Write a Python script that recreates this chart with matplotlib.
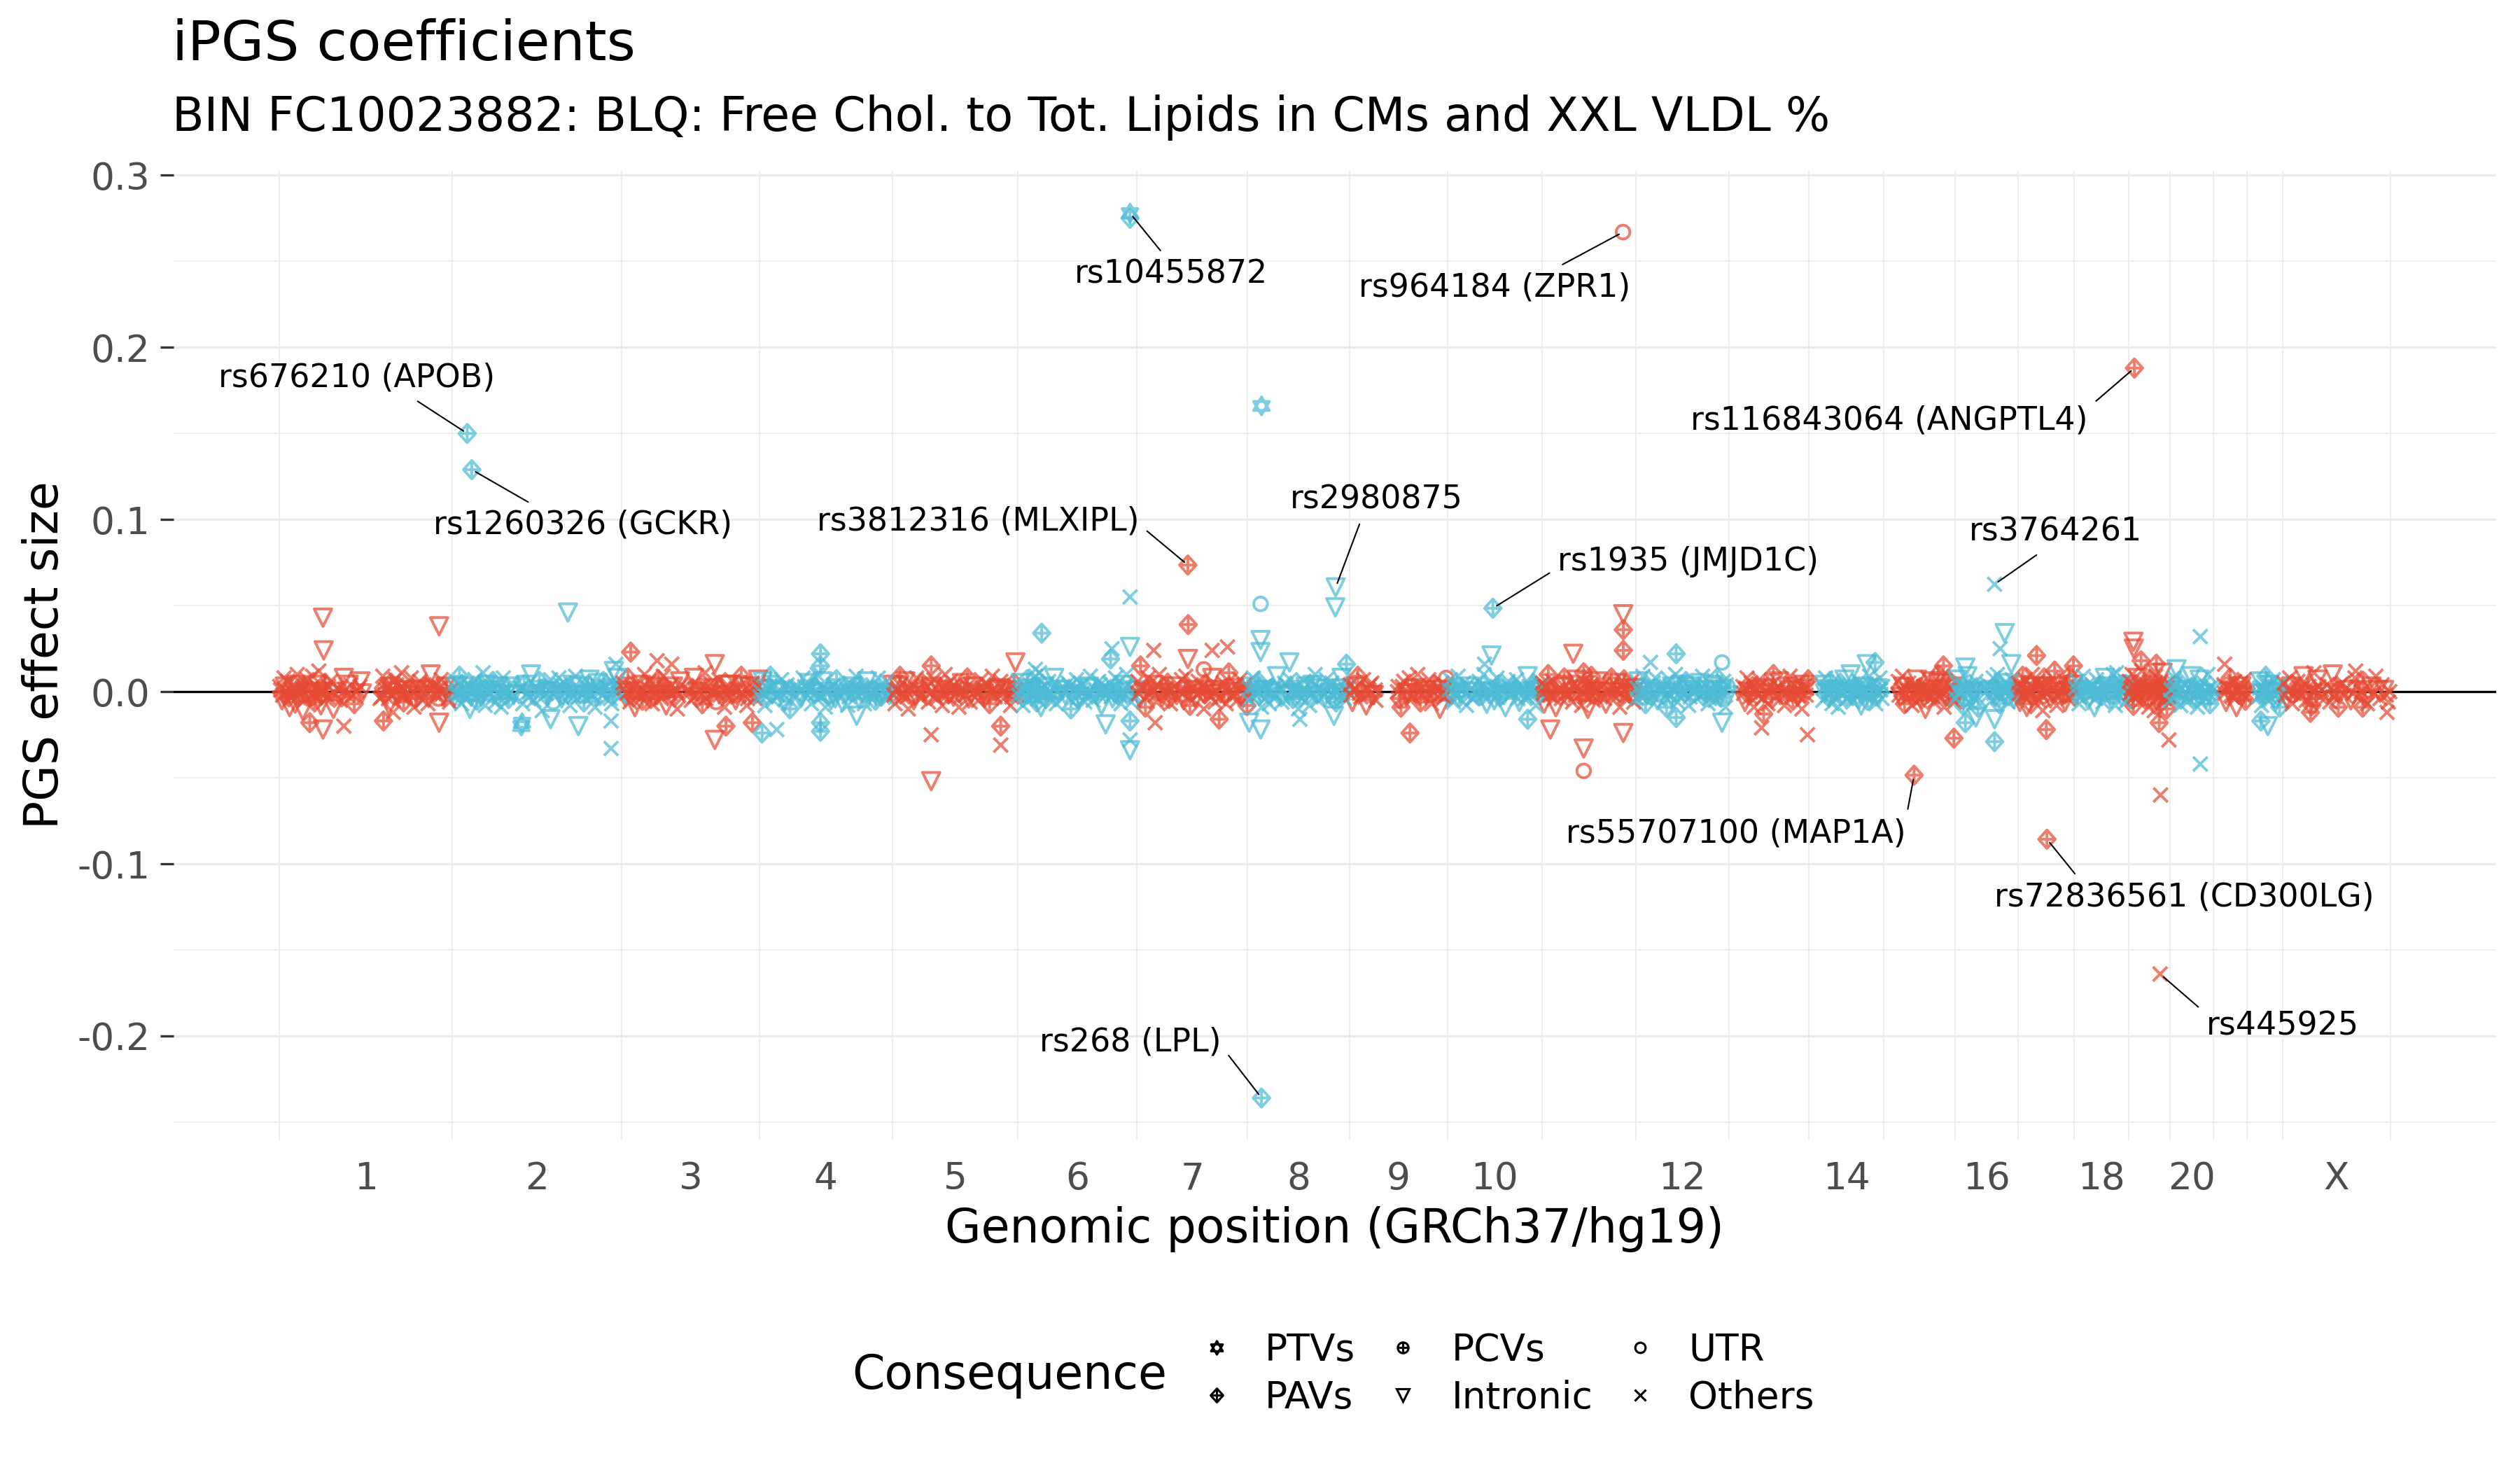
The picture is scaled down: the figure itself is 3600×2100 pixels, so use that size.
import numpy as np
import matplotlib
matplotlib.use("Agg")
import matplotlib.pyplot as plt
from matplotlib.path import Path
from matplotlib.lines import Line2D

# chromosome sizes (Mb, GRCh37)
chrom_names = ["1", "2", "3", "4", "5", "6", "7", "8", "9", "10", "11", "12",
               "13", "14", "15", "16", "17", "18", "19", "20", "21", "22", "X"]
chrom_len = [249.25, 243.20, 198.02, 191.15, 180.92, 171.12, 159.14, 146.36,
             141.21, 135.53, 135.01, 133.85, 115.17, 107.35, 102.53, 90.35,
             81.20, 78.08, 59.13, 63.03, 48.13, 51.30, 155.27]
tick_shown = ["1", "2", "3", "4", "5", "6", "7", "8", "9", "10",
              "12", "14", "16", "18", "20", "X"]

# bulk of small effects, per chromosome: position (Mb), beta (x1e-3), consequence code
band_pos = [
    [1, 4, 7, 9, 12, 15, 17, 20, 23, 26, 28, 31, 34, 37, 40, 43, 45, 48, 51, 54,
     57, 60, 63, 66, 70, 74, 78, 83, 88, 93, 98, 103, 108, 113, 117, 145, 149, 152, 155, 158,
     161, 164, 167, 170, 173, 176, 179, 182, 186, 190, 194, 198, 202, 206, 210, 214, 218, 222, 226, 229,
     233, 237, 241, 245],
    [2, 5, 8, 10, 13, 16, 19, 22, 25, 29, 32, 35, 38, 41, 44, 47, 50, 54, 58, 62,
     66, 70, 73, 77, 81, 85, 88, 98, 101, 105, 109, 113, 117, 121, 125, 129, 133, 137, 141, 145,
     149, 153, 157, 161, 165, 169, 173, 177, 181, 185, 189, 193, 197, 201, 205, 209, 213, 217, 221, 225,
     229, 233, 237, 241],
    [2, 5, 9, 12, 16, 19, 23, 26, 30, 33, 37, 40, 44, 47, 50, 53, 57, 60, 64, 68,
     72, 76, 80, 84, 96, 100, 104, 108, 112, 116, 120, 124, 128, 132, 136, 140, 144, 148, 152, 156,
     160, 164, 168, 172, 176, 180, 184, 188, 192, 196],
    [1, 5, 8, 12, 16, 20, 24, 28, 32, 36, 40, 44, 55, 59, 63, 67, 71, 75, 79, 83,
     87, 91, 95, 99, 103, 107, 111, 115, 119, 123, 127, 131, 135, 139, 143, 147, 151, 155, 159, 163,
     167, 171, 175, 179, 183, 187],
    [1, 4, 8, 11, 15, 19, 23, 27, 31, 35, 39, 43, 52, 56, 60, 64, 68, 72, 76, 80,
     84, 88, 92, 96, 100, 104, 108, 112, 116, 120, 124, 128, 132, 136, 140, 144, 148, 152, 156, 160,
     165, 170, 175, 179],
    [1, 4, 7, 10, 13, 16, 19, 22, 25, 27, 29, 31, 33, 36, 40, 44, 48, 52, 55, 64,
     68, 72, 76, 80, 84, 88, 92, 96, 100, 104, 108, 112, 116, 120, 124, 128, 132, 136, 140, 144,
     148, 152, 156, 163, 167, 170],
    [1, 4, 8, 12, 16, 20, 24, 28, 32, 36, 40, 44, 48, 52, 56, 64, 67, 70, 76, 80,
     84, 88, 92, 96, 100, 104, 108, 112, 116, 120, 124, 128, 132, 136, 140, 144, 148, 152, 155, 158],
    [1, 4, 8, 11, 15, 20, 23, 27, 31, 35, 39, 42, 49, 53, 57, 61, 65, 69, 73, 77,
     81, 85, 89, 93, 97, 101, 105, 109, 113, 117, 121, 127, 131, 135, 139, 143],
    [1, 4, 8, 12, 16, 20, 24, 28, 32, 35, 38, 70, 74, 78, 82, 86, 90, 94, 98, 102,
     106, 110, 114, 118, 122, 126, 130, 133, 136, 139],
    [1, 4, 8, 12, 15, 19, 23, 27, 31, 35, 45, 49, 52, 56, 60, 63, 67, 71, 75, 79,
     83, 87, 91, 95, 99, 103, 107, 111, 115, 119, 123, 127, 131, 134],
    [1, 3, 6, 9, 12, 16, 20, 24, 28, 32, 36, 40, 44, 47, 50, 57, 60, 62, 64, 66,
     68, 71, 74, 77, 80, 84, 88, 92, 96, 100, 104, 108, 112, 115, 118, 121, 125, 129, 132, 134],
    [1, 4, 7, 10, 14, 18, 21, 25, 28, 31, 40, 44, 48, 51, 54, 57, 60, 64, 68, 72,
     76, 80, 84, 88, 92, 96, 100, 104, 108, 111, 114, 117, 120, 123, 126, 129, 132],
    [20, 23, 26, 29, 32, 36, 40, 44, 48, 52, 56, 60, 64, 68, 72, 76, 80, 84, 88, 92,
     96, 99, 102, 105, 108, 111, 114],
    [20, 22, 24, 27, 30, 33, 36, 39, 42, 45, 48, 51, 54, 57, 60, 63, 66, 69, 72, 75,
     78, 81, 84, 87, 90, 93, 96, 99, 102, 105],
    [21, 24, 27, 30, 33, 36, 39, 41, 45, 48, 51, 54, 57, 60, 63, 66, 69, 72, 75, 78,
     81, 84, 87, 90, 93, 96, 99, 102],
    [1, 3, 6, 9, 12, 15, 18, 21, 24, 27, 30, 33, 47, 50, 53, 55, 58, 61, 64, 67,
     70, 73, 76, 79, 82, 85, 88],
    [1, 3, 5, 7, 9, 11, 13, 15, 17, 19, 21, 26, 28, 30, 33, 36, 38, 41, 44, 47,
     50, 53, 56, 59, 62, 65, 68, 71, 74, 77, 80],
    [1, 4, 7, 10, 13, 20, 23, 26, 29, 32, 35, 38, 41, 44, 47, 50, 53, 56, 59, 62,
     65, 68, 71, 74, 77],
    [1, 3, 5, 7, 9, 11, 13, 15, 17, 19, 21, 23, 29, 31, 33, 35, 37, 39, 41, 43,
     45, 47, 49, 51, 53, 55, 57],
    [1, 4, 7, 10, 13, 16, 19, 22, 25, 31, 34, 37, 40, 43, 46, 49, 52, 55, 58, 61],
    [15, 18, 21, 24, 27, 30, 33, 36, 39, 42, 44, 46],
    [17, 19, 21, 24, 27, 30, 32, 35, 38, 41, 44, 47, 50],
    [2, 6, 10, 14, 18, 22, 26, 30, 34, 38, 42, 46, 50, 54, 64, 68, 72, 76, 80, 86,
     92, 98, 104, 110, 116, 122, 128, 134, 140, 146, 152],
]
band_beta = [
    [3, -5, 8, -2, 6, -9, 1, 4, -7, 10, -3, 5, -11, 2, 7, -4, -1, 9, -6, 3,
     12, -8, 0, 5, -3, 6, -10, 2, -5, 8, -2, 4, -7, 1, 6, -4, 9, -1, 3, -8,
     5, -12, 7, -3, 2, 11, -6, 4, -2, 8, -9, 1, 6, -5, 3, -7, 10, -1, 4, -4,
     7, -3, 2, -6],
    [-4, 6, -1, 9, -7, 3, -2, 5, -10, 1, 7, -5, 2, -3, 11, -8, 4, -1, 6, -6,
     3, -9, 8, 0, -4, 5, -2, 2, -7, 4, -3, 10, -5, 1, 6, -11, 3, -2, 7, -6,
     2, 8, -4, 5, -1, -8, 4, 9, -3, 1, -6, 3, 7, -2, -9, 5, 0, 6, -4, 2,
     -7, 4, 8, -3],
    [5, -3, 8, -6, 2, -9, 4, 1, -5, 10, -2, 6, -7, 3, -1, 7, -4, 9, -8, 2,
     4, -3, -10, 6, 1, -5, 8, -2, 3, -7, 11, -4, 5, -1, -6, 7, 2, -9, 4, -3,
     6, -5, 1, 9, -2, -8, 3, 5, -4, 7],
    [-3, 6, -8, 2, 9, -5, 1, -2, 7, -6, 4, -10, 3, -4, 8, -1, 5, -7, 2, 10,
     -3, 6, -9, 1, -5, 4, 7, -2, -6, 3, -8, 5, 0, 9, -4, 2, -7, 6, -1, 4,
     -5, 8, -3, 1, 6, -2],
    [4, -7, 2, 9, -3, 6, -10, 1, -5, 8, -2, 5, -6, 3, 7, -4, 1, -8, 10, -1,
     6, -3, 2, -9, 5, -2, 8, -6, 3, 0, -5, 7, -1, 4, -7, 9, -3, 2, 6, -4,
     1, -8, 5, -2],
    [-2, 5, -8, 3, 7, -5, 1, -3, 9, -6, 4, 11, -9, 2, -4, 6, -1, 8, -7, 3,
     -2, 5, -10, 1, 7, -3, 4, -6, 2, 9, -5, 0, 6, -8, 3, -1, 5, -4, 8, -2,
     -7, 4, 10, -6, 2, -3],
    [6, -4, 2, -9, 8, -1, 4, -6, 10, -3, 1, 5, -7, 3, -2, 7, -5, 9, -8, 2,
     -4, 6, 0, -10, 4, -2, 8, -6, 3, -1, 5, -7, 11, -3, 2, -5, 7, -2, 4, -8],
    [-5, 3, 8, -2, 6, -9, 1, 4, -7, 2, -3, 9, -6, 5, -1, 7, -4, 3, -10, 1,
     6, -2, -8, 4, 10, -5, 2, -3, 7, -1, 5, -6, 3, 8, -4, 1],
    [4, -6, 2, 9, -3, 7, -8, 1, 5, -2, -5, 3, -9, 6, -1, 8, -4, 2, 10, -6,
     3, -2, 7, -7, 4, 1, -10, 5, -3, 8],
    [-3, 7, -6, 2, 9, -1, 5, -8, 3, -4, 6, -2, 10, -7, 1, 4, -5, 8, -3, 2,
     -9, 6, -1, 3, 7, -6, 2, -4, 9, -2, 5, -8, 1, 4],
    [5, -7, 3, 10, -2, 6, -9, 1, -4, 8, -1, 4, -6, 2, 7, -8, 11, -3, 5, -10,
     2, 9, -5, 0, 6, -3, 4, -7, 1, 8, -2, 5, -9, 3, 7, -4, -1, 6, -6, 2],
    [-4, 6, -1, 9, -7, 3, -2, 5, 8, -5, 2, -9, 7, -3, 1, 10, -6, 4, -2, 6,
     -8, 3, 0, -4, 5, 9, -1, -7, 2, 4, -5, 8, -3, 1, 6, -9, 3],
    [3, -6, 8, -2, 5, -9, 1, 7, -4, 2, -7, 4, 10, -3, 6, -1, -8, 3, 9, -5,
     1, -3, 6, -10, 4, -2, 7],
    [-5, 4, 8, -2, 6, -7, 1, 3, -9, 5, -1, 7, -4, 2, 10, -6, 3, -3, 6, -8,
     1, 4, -5, 9, -2, 5, -7, 2, 8, -4],
    [6, -3, 9, -7, 2, 5, -1, -8, 4, 7, -5, 1, 3, -10, 8, -2, 6, -6, 2, 10,
     -4, 5, -9, 1, 7, -3, 3, -6],
    [-4, 7, -1, 5, -8, 3, 9, -6, 2, -2, 6, -9, 4, 1, -5, 8, -3, 10, -7, 2,
     5, -1, -6, 3, 7, -4, 1],
    [5, -6, 2, 9, -3, 7, -9, 1, 4, -7, 10, -2, 6, -5, 3, -11, 8, -1, 5, -4,
     2, 12, -8, 3, -2, 7, -6, 1, 9, -3, 4],
    [-3, 6, -7, 2, 9, -5, 1, 4, -9, 7, -2, 3, -6, 8, -1, 5, -4, 10, -8, 2,
     6, -3, 1, -6, 4],
    [6, -4, 10, -8, 3, -1, 8, -6, 2, 12, -3, 5, -9, 7, -2, 4, -11, 9, -5, 1,
     -7, 6, 11, -4, 3, -10, 5],
    [-5, 3, 8, -2, 6, -8, 1, 4, -6, 9, -3, 2, -9, 7, -1, 5, -4, 10, -7, 3],
    [4, -6, 2, 8, -3, 6, -9, 1, 5, -2, 7, -5],
    [-3, 6, -8, 2, 9, -5, 4, -1, 7, -6, 3, -9, 5],
    [5, -4, 8, -7, 2, 6, -2, 9, -5, 3, -8, 1, 7, -3, 4, -6, 10, -1, -9, 5,
     2, -5, 8, -3, 6, -7, 3, 9, -4, 1, -6],
]
band_cons = [
    "xvxdxvxxvx" "dxvxxovxdx" "xvxdxxvxxv" "xxdxvxxpxv" "dxxvxxdxvx" "xvxxdxvxxo" "xvdx",
    "vxxdxvxxvx" "xdxvxxvxdx" "vxxxdxvxxv" "xvxxdxxvxo" "xxvxdxvxxx" "dxvxxvxdxv" "xxvx",
    "xvdxxvxxdx" "vxxvxdxxvx" "xdxvxxvxxd" "xvxxoxdxvx" "xvxdxxvxxv",
    "xvxxdxvxxv" "xdxvxxvxdx" "xvxxvxdxvx" "xxdxvxxvxx" "dxvxxv",
    "vxxdxvxxvx" "xdxvxxvxxd" "xvxxvxdxvx" "xxvxdxxvxx" "vxdx",
    "xvxxdxvxxd" "xxvxdxxvxx" "vxdxxvxxvx" "xdxvxxxvxd" "xvxxox",
    "xvxdxxvxxv" "xdxvxxvxdx" "vxxxdxvxxv" "xxdxvxxvxd",
    "xvxxdxvxxd" "xvxxvxdxxv" "xdxvxxvxxv" "xdxvxx",
    "xvxdxxvxxv" "xxdxvxxvxd" "xvxxdxvxxo",
    "vxxdxvxxvx" "xdxvxxvxdx" "vxxdxvxxvx" "dxvx",
    "xvxdxxvxxd" "xvxxvxdxxv" "xdxxvxxvxd" "xvxxdxvxxv",
    "xvxxdxvxxv" "xdxvxxxvxd" "xvxxvxdxxv" "xdxvxxo",
    "xvxdxxvxxv" "xxdxvxxvxd" "xvxxvxd",
    "xvxxdxvxxd" "xvxxvxdxxv" "xxdxvxxvxx",
    "xvxdxxvxxv" "xdxvxxvxxd" "xvxxdxvx",
    "xvxxdxvxxv" "xdxvxxvxdx" "vxxdxvx",
    "xvxdxxvxxd" "xvxxvxdxxv" "xdxvxxvxdx" "v",
    "vxxdxvxxvx" "xdxvxxvxxd" "xvxxv",
    "xvxdxxvxdx" "vxxdxvxxvx" "dxvxxdx",
    "xvxxdxvxxv" "xdxvxxvxdx",
    "xvxdxxvxxvxd",
    "xvxxdxvxxvxdx",
    "xvxxdxxvxx" "dxvxxxvxdx" "xvxxdxvxxv" "x",
]

# tightly clustered effects close to zero (x1e-3)
core_pos = [
    [2, 5, 8, 11, 14, 18, 21, 25, 29, 32, 35, 38, 42, 46, 49, 52, 55, 58, 61, 64,
     67, 71, 76, 80, 85, 90, 95, 100, 105, 111, 116, 119, 147, 150, 153, 157, 160, 163, 166, 169,
     172, 175, 178, 181, 185, 189, 192, 196, 200, 204, 208, 212, 216, 220, 224, 228, 232, 235, 239, 243, 247],
    [3, 6, 9, 12, 15, 18, 21, 24, 27, 31, 34, 37, 40, 43, 46, 49, 52, 56, 60, 64,
     68, 72, 75, 79, 83, 87, 99, 103, 107, 111, 115, 119, 123, 127, 131, 135, 139, 143, 147, 151,
     155, 159, 163, 167, 171, 175, 179, 183, 187, 191, 195, 199, 203, 207, 211, 215, 219, 223, 227, 231,
     235, 239],
    [3, 7, 10, 14, 17, 21, 24, 28, 31, 35, 38, 42, 45, 48, 51, 55, 58, 62, 66, 70,
     74, 78, 82, 86, 97, 101, 105, 109, 113, 117, 121, 125, 129, 133, 137, 141, 145, 149, 153, 157,
     161, 165, 169, 173, 177, 181, 185, 189, 193, 197],
    [2, 6, 10, 14, 18, 22, 26, 30, 34, 38, 42, 46, 54, 57, 61, 65, 69, 73, 77, 81,
     85, 89, 93, 97, 101, 105, 109, 113, 117, 121, 125, 129, 133, 137, 141, 145, 149, 153, 157, 161,
     165, 169, 173, 177, 181, 185, 189],
    [2, 6, 9, 13, 17, 21, 25, 29, 33, 37, 41, 45, 51, 54, 58, 62, 66, 70, 74, 78,
     82, 86, 90, 94, 98, 102, 106, 110, 114, 118, 122, 126, 130, 134, 138, 142, 146, 150, 154, 158,
     162, 167, 172, 177],
    [2, 5, 8, 11, 14, 17, 20, 23, 26, 28, 30, 32, 34, 38, 42, 46, 50, 54, 56, 63,
     66, 70, 74, 78, 82, 86, 90, 94, 98, 102, 106, 110, 114, 118, 122, 126, 130, 134, 138, 142,
     146, 150, 154, 158, 165, 169],
    [2, 6, 10, 14, 18, 22, 26, 30, 34, 38, 42, 46, 50, 54, 57, 63, 66, 69, 73, 78,
     82, 86, 90, 94, 98, 102, 106, 110, 114, 118, 122, 126, 130, 134, 138, 142, 146, 150, 154, 157],
    [2, 6, 9, 13, 17, 21, 25, 29, 33, 37, 41, 48, 51, 55, 59, 63, 67, 71, 75, 79,
     83, 87, 91, 95, 99, 103, 107, 111, 115, 119, 123, 125, 129, 133, 137, 141, 145],
    [2, 6, 10, 14, 18, 22, 26, 30, 33, 37, 69, 72, 76, 80, 84, 88, 92, 96, 100, 104,
     108, 112, 116, 120, 124, 128, 131, 134, 137, 140],
    [2, 6, 10, 13, 17, 21, 25, 29, 33, 37, 44, 47, 50, 54, 58, 61, 65, 69, 73, 77,
     81, 85, 89, 93, 97, 101, 105, 109, 113, 117, 121, 125, 129, 133],
    [2, 4, 7, 10, 14, 18, 22, 26, 30, 34, 38, 42, 45, 48, 56, 58, 61, 63, 65, 67,
     69, 72, 75, 78, 82, 86, 90, 94, 98, 102, 106, 110, 113, 116, 119, 123, 127, 130, 133],
    [2, 5, 8, 12, 16, 19, 23, 26, 29, 32, 39, 42, 46, 49, 52, 55, 58, 62, 66, 70,
     74, 78, 82, 86, 90, 94, 98, 102, 106, 109, 112, 115, 118, 121, 124, 127, 130, 133],
    [21, 24, 27, 30, 34, 38, 42, 46, 50, 54, 58, 62, 66, 70, 74, 78, 82, 86, 90, 94,
     97, 100, 103, 106, 109, 112],
    [21, 23, 25, 28, 31, 34, 37, 40, 43, 46, 49, 52, 55, 58, 61, 64, 67, 70, 73, 76,
     79, 82, 85, 88, 91, 94, 97, 100, 103, 106],
    [22, 25, 28, 31, 34, 37, 40, 43, 46, 49, 52, 55, 58, 61, 64, 67, 70, 73, 76, 79,
     82, 85, 88, 91, 94, 97, 100],
    [2, 4, 7, 10, 13, 16, 19, 22, 25, 28, 31, 34, 48, 51, 54, 56, 59, 62, 65, 68,
     71, 74, 77, 80, 83, 86, 89],
    [2, 4, 6, 8, 10, 12, 14, 16, 18, 20, 27, 29, 31, 34, 37, 39, 42, 45, 48, 51,
     54, 57, 60, 63, 66, 69, 72, 75, 78],
    [2, 5, 8, 11, 14, 19, 22, 25, 28, 31, 34, 37, 40, 43, 46, 49, 52, 55, 58, 61,
     64, 67, 70, 73, 76],
    [2, 4, 6, 8, 10, 12, 14, 16, 18, 20, 22, 28, 30, 32, 34, 36, 38, 40, 42, 44,
     46, 48, 50, 52, 54, 56, 58],
    [2, 5, 8, 11, 14, 17, 20, 23, 30, 32, 35, 38, 41, 44, 47, 50, 53, 56, 59, 62],
    [16, 19, 22, 25, 28, 31, 34, 37, 40, 43, 45, 47],
    [18, 20, 22, 23, 25, 28, 31, 33, 36, 39, 42, 45, 48, 49],
    [4, 8, 12, 16, 20, 24, 28, 32, 36, 40, 44, 48, 52, 56, 66, 70, 74, 78, 83, 89,
     95, 101, 107, 113, 119, 125, 131, 137, 143, 149, 154],
]
core_beta = [
    [1, -2, 3, 0, -3, 2, -1, 4, -2, 1, 3, -4, 0, 2, -1, -3, 4, 1, -2, 2,
     -4, 3, 0, -1, 2, -3, 1, 4, -2, 0, 3, -1, -3, 2, 1, -4, 3, -2, 0, 4,
     -1, 2, -3, 1, 3, -2, 0, -4, 2, 1, -1, 3, -3, 4, 0, -2, 2, -1, 3, -4, 1],
    [-1, 3, -2, 0, 2, -4, 1, 3, -3, 0, 2, -1, 4, -2, 1, -3, 0, 3, -1, 2,
     -4, 1, 0, -2, 3, -3, 2, 4, -1, 0, -2, 3, 1, -4, 2, -1, 0, 3, -3, 1,
     4, -2, 0, 2, -1, -3, 1, 3, -2, 0, 4, -1, 2, -3, 1, -2, 3, 0, -4, 2, 1, -1],
    [2, -1, 0, 3, -3, 1, -2, 4, 0, -1, 2, -4, 1, 3, -2, 0, -3, 2, 1, -1,
     3, 0, -2, 4, -1, 2, -3, 0, 1, 3, -4, 2, -1, 0, 3, -2, 1, -3, 4, 0,
     -1, 2, -2, 3, 1, -4, 0, 2, -1, 3],
    [0, 2, -3, 1, -1, 4, -2, 0, 3, -4, 1, -1, 2, 0, -3, 3, -2, 1, 4, -1,
     0, -3, 2, 1, -2, 3, -4, 0, 2, -1, 1, -3, 3, 0, -2, 4, -1, 2, -3, 0,
     1, -2, 3, -1, 2, -4, 0],
    [-2, 1, 3, -1, 0, -3, 2, 4, -2, 1, -4, 0, 3, -1, 2, -3, 1, 0, -2, 4,
     -1, 3, -3, 0, 2, 1, -2, -4, 3, 0, 1, -1, 2, -3, 4, 0, -2, 1, 3, -1,
     0, 2, -3, 1],
    [1, -3, 2, 0, -1, 4, -2, 3, 0, -4, 2, 1, -2, 3, -1, 0, 2, -3, 4, 1,
     -1, 0, 3, -2, 2, -4, 1, 0, -3, 3, -1, 2, -2, 4, 0, -1, 1, -3, 2, 3,
     -2, 0, -1, 4, -3, 1],
    [-1, 2, 0, -3, 3, 1, -2, 4, -1, 0, 2, -4, 1, 3, -2, 0, -1, 2, -3, 4,
     1, -2, 0, 3, -1, 2, -3, 1, 0, -4, 3, -1, 2, 0, -2, 4, 1, -3, 2, -1],
    [2, -1, 3, 0, -2, 1, -4, 2, 0, -1, 3, -3, 1, 4, -2, 0, 2, -1, -3, 1,
     3, 0, -2, 4, -1, 2, 0, -3, 1, 3, -2, -4, 0, 2, -1, 1, 3],
    [-2, 1, 3, -1, 0, -3, 2, 4, -2, 1, 0, -4, 3, 1, -1, 2, -3, 0, 4, -2,
     1, -1, 3, 0, -3, 2, -1, 1, 4, -2],
    [1, -2, 0, 3, -3, 2, -1, 4, 0, -4, 2, 1, -2, 3, 0, -1, 2, -3, 4, 1,
     -2, 0, 3, -1, 2, -4, 1, 0, -3, 3, -1, 2, 0, -2],
    [-1, 3, 0, -2, 2, -4, 1, 0, 3, -1, -3, 2, 4, -2, 1, 0, -1, 3, -3, 2,
     0, -2, 4, 1, -1, 3, -4, 0, 2, -2, 1, 3, -1, 0, -3, 2, 4, -2, 1],
    [2, 0, -3, 1, -1, 4, -2, 3, 0, -4, 1, 2, -1, -3, 3, 0, 2, -2, 4, -1,
     1, -3, 0, 2, 3, -2, -1, 1, -4, 0, 3, -1, 2, -3, 0, 1, 4, -2],
    [-1, 2, 0, -3, 3, 1, -2, 4, -1, 0, 2, -4, 1, 3, -2, 0, -1, 2, -3, 4,
     1, -2, 0, 3, -1, 2],
    [2, -1, 3, 0, -2, 1, -4, 2, 0, -1, 3, -3, 1, 4, -2, 0, 2, -1, -3, 1,
     3, 0, -2, 4, -1, 2, 0, -3, 1, 3],
    [-2, 1, 3, -1, 0, -3, 2, 4, -2, 1, 0, -4, 3, 1, -1, 2, -3, 0, 4, -2,
     1, -1, 3, 0, -3, 2, -1],
    [1, -2, 0, 3, -3, 2, -1, 4, 0, -4, 2, 1, -2, 3, 0, -1, 2, -3, 4, 1,
     -2, 0, 3, -1, 2, -4, 1],
    [-1, 3, 0, -2, 2, -4, 1, 0, 3, -1, -3, 2, 4, -2, 1, 0, -1, 3, -3, 2,
     0, -2, 4, 1, -1, 3, -4, 0, 2],
    [2, 0, -3, 1, -1, 4, -2, 3, 0, -4, 1, 2, -1, -3, 3, 0, 2, -2, 4, -1,
     1, -3, 0, 2, 3],
    [-1, 2, 0, -3, 3, 1, -2, 4, -1, 0, 2, -4, 1, 3, -2, 0, -1, 2, -3, 4,
     1, -2, 0, 3, -1, 2, -3],
    [1, -2, 3, 0, -3, 2, -1, 4, -2, 0, 3, -4, 1, 2, -1, -3, 0, 2, -2, 1],
    [-1, 3, 0, -2, 2, -4, 1, 0, 3, -1, -3, 2],
    [2, -1, 3, 0, -3, 1, -2, 4, 0, -1, 2, -3, 1, 3],
    [-2, 1, 3, -1, 0, -3, 2, 4, -2, 1, 0, -4, 3, 1, -1, 2, -3, 0, 4, -2,
     1, -1, 3, 0, -3, 2, -1, 1, 4, -2, 0],
]
core_cons = [
    "xxvxdxxvxx" "dxvxxxvxdx" "xxvxxdxvxx" "xvxdxxvxxx" "dxxvxxxdxv" "xxvxdxxxvx" "x",
    "xvxxdxxxvx" "xxdxvxxxvx" "dxxxvxxdxx" "vxxxdxvxxx" "xvxdxxxvxx" "dxxvxxxvxd" "xx",
    "xxvxdxxvxx" "xdxxvxxxdx" "vxxxxdxvxx" "xvxxdxxxvx" "dxxvxxxxdx",
    "xvxxdxxvxx" "xdxxvxxxdx" "vxxxdxvxxx" "xxvxxdxxvx" "xdxvxxx",
    "xxvxdxxxvx" "xdxxvxxdxx" "vxxxdxxvxx" "xdxvxxxvxx" "xdxx",
    "xvxxdxxxvx" "dxxvxxxdxv" "xxxvxdxxxv" "xxdxxvxxxd" "xvxxxv",
    "xxvxdxxxvx" "xdxxvxxdxx" "vxxxdxxvxx" "xdxvxxxvxx",
    "xvxxdxxxvx" "xdxxvxxxdx" "vxxxdxxvxx" "xdxvxxx",
    "xxvxdxxxvx" "xdxxvxxdxx" "vxxxdxxvxx",
    "xvxxdxxxvx" "xdxxvxxxdx" "vxxxdxxvxx" "xdxv",
    "xxvxdxxxvx" "xdxxvxxdxx" "vxxxdxxvxx" "xdxvxxxvx",
    "xvxxdxxxvx" "xdxxvxxxdx" "vxxxdxxvxx" "xdxvxxxv",
    "xxvxdxxxvx" "xdxxvxxdxx" "vxxxdx",
    "xvxxdxxxvx" "xdxxvxxxdx" "vxxxdxxvxx",
    "xxvxdxxxvx" "xdxxvxxdxx" "vxxxdxx",
    "xvxxdxxxvx" "xdxxvxxxdx" "vxxxdxx",
    "xxvxdxxxvx" "xdxxvxxdxx" "vxxxdxxvx",
    "xvxxdxxxvx" "xdxxvxxxdx" "vxxxd",
    "xxvxdxxxvx" "xdxxvxxdxx" "vxxxdxx",
    "xvxxdxxxvx" "xdxxvxxxdx",
    "xxvxdxxxvxxd",
    "xvxxdxxxvxxdxx",
    "xxvxdxxxvx" "xdxxvxxdxx" "vxxxdxxvxx" "x",
]

# scattered larger effects
out_chr = ["1", "1", "1", "1", "1", "1", "1", "1",
           "2", "2", "2", "2", "2", "2", "2", "2", "2",
           "3", "3", "3", "3", "3", "3", "3",
           "4", "4", "4", "4", "4", "4", "4",
           "5", "5", "5", "5", "5", "5",
           "6", "6", "6", "6", "6", "6", "6", "6", "6", "6",
           "7", "7", "7", "7", "7", "7", "7", "7", "7",
           "8", "8", "8", "8", "8", "8", "8", "8", "8", "8", "8",
           "9", "10", "10", "10",
           "11", "11", "11", "11", "11", "11", "11", "11",
           "12", "12", "12", "12", "12",
           "13", "13", "13", "14", "14", "15", "15",
           "16", "16", "16", "16", "16", "16", "16", "16",
           "17", "17", "17", "18",
           "19", "19", "19", "19", "19", "19", "19",
           "20", "20", "20", "21", "22", "22",
           "X", "X", "X", "X", "X"]
out_pos = [63, 64, 230, 150, 63, 93, 44, 230,
           166, 99, 100, 228, 228, 141, 181, 232, 235,
           13, 51, 72, 134, 150, 134, 188,
           88, 88, 88, 88, 4, 25, 140,
           56, 56, 56, 156, 156, 177,
           34, 25, 126, 161, 161, 161, 161, 161, 133, 135,
           73.5, 130, 108, 73, 5, 26, 118, 24, 96,
           18.5, 126, 18.5, 18.5, 60, 18.5, 2, 75, 142, 124, 19.8,
           87, 63, 53, 115,
           117, 117, 117, 12, 60, 60, 117, 45,
           58, 124, 124, 21, 58,
           113, 50, 47, 95, 83, 86, 101,
           71.5, 65, 15, 15, 30, 57, 57, 81,
           27, 41, 80, 61,
           7, 7.5, 18, 40, 58, 44, 46,
           44, 44, 10, 16, 20, 30,
           105, 115, 150, 45, 40]
out_beta = [0.043, 0.024, 0.038, -0.017, -0.022, -0.020, -0.018, -0.018,
            0.046, -0.020, -0.018, -0.017, -0.033, -0.016, -0.020, 0.012, 0.016,
            0.023, 0.018, 0.016, -0.028, -0.020, 0.016, -0.018,
            0.022, 0.015, -0.018, -0.023, -0.024, -0.022, -0.014,
            -0.025, -0.052, 0.015, -0.031, -0.020, 0.017,
            0.034, 0.013, -0.019, -0.034, -0.028, -0.017, 0.055, 0.026, 0.019, 0.025,
            0.039, 0.026, 0.024, 0.019, 0.015, -0.018, -0.016, 0.024, 0.013,
            0.051, 0.049, 0.030, 0.023, 0.017, -0.022, -0.018, -0.016, 0.016, -0.014, 0.166,
            -0.024, 0.021, 0.016, -0.016,
            0.045, 0.036, 0.024, -0.022, -0.033, -0.046, -0.024, 0.022,
            0.022, 0.017, -0.018, 0.017, -0.015,
            -0.025, -0.013, -0.021, 0.017, 0.016, 0.015, -0.027,
            0.034, 0.025, 0.014, -0.018, -0.015, -0.016, -0.029, 0.016,
            0.021, -0.022, 0.015, 0.011,
            0.029, 0.025, 0.018, 0.016, -0.028, -0.018, -0.060,
            0.032, -0.042, 0.013, 0.016, -0.017, -0.020,
            0.012, -0.009, -0.012, 0.011, -0.012]
out_cons = ["v", "v", "v", "d", "v", "x", "d", "v",
            "v", "s", "s", "x", "x", "v", "v", "v", "x",
            "d", "x", "x", "v", "d", "v", "d",
            "d", "d", "d", "d", "d", "x", "v",
            "x", "v", "d", "x", "d", "v",
            "d", "x", "v", "v", "x", "d", "x", "v", "d", "x",
            "d", "x", "x", "v", "d", "x", "d", "x", "o",
            "o", "v", "v", "v", "v", "v", "v", "x", "d", "v", "s",
            "d", "v", "x", "d",
            "v", "d", "d", "v", "v", "o", "v", "v",
            "d", "o", "v", "x", "d",
            "x", "d", "x", "d", "v", "d", "d",
            "v", "x", "v", "d", "v", "v", "d", "v",
            "d", "d", "d", "x",
            "v", "v", "d", "d", "x", "d", "x",
            "x", "x", "v", "x", "d", "v",
            "x", "d", "x", "x", "d"]

# labelled variants
lab_chr = ["2", "2", "6", "6", "11", "19", "7", "8", "10", "16", "15", "17", "19", "8"]
lab_pos = [21.2, 27.7, 161.0, 161.0, 116.6, 8.4, 73.0, 126.5, 65.0, 57.0, 43.8, 41.9, 45.4, 19.8]
lab_beta = [0.150, 0.129, 0.278, 0.275, 0.267, 0.188, 0.0736, 0.0606, 0.0485, 0.0624,
            -0.0485, -0.0857, -0.164, -0.236]
lab_cons = ["d", "d", "s", "d", "o", "d", "d", "v", "d", "x", "d", "d", "x", "d"]
lab_text = ["rs676210 (APOB)", "rs1260326 (GCKR)", "rs10455872", "", "rs964184 (ZPR1)",
            "rs116843064 (ANGPTL4)", "rs3812316 (MLXIPL)", "rs2980875", "rs1935 (JMJD1C)",
            "rs3764261", "rs55707100 (MAP1A)", "rs72836561 (CD300LG)", "rs445925", "rs268 (LPL)"]
# label offsets (points) and where the leader line leaves the label box
lab_dx = [-38, 38, 14, 0, -44, -84, -72, 14, 67, 21, -61, 47, 42, -45]
lab_dy = [19, -19, -21, 0, -19, -18, 15, 30, 16, 18, -20, -20, -18, 19]
lab_rel = [(0.68, 0), (0.36, 1), (0.48, 1), (0.5, 0.5), (0.7, 1), (1, 0.9), (1, 0.4),
           (0.42, 0), (0, 0.3), (0.45, 0), (1, 1), (0.23, 1), (0, 0.9), (1, 0.4)]

red = "#E64B35"
blue = "#4DBBD5"

# marker shapes
M, L, C = Path.MOVETO, Path.LINETO, Path.CLOSEPOLY
ptv_marker = Path([(0, 1), (-0.87, -0.5), (0.87, -0.5), (0, 1),
                   (0, -1), (-0.87, 0.5), (0.87, 0.5), (0, -1)],
                  [M, L, L, C, M, L, L, C])
pav_marker = Path([(0, 1), (0.9, 0), (0, -1), (-0.9, 0), (0, 1),
                   (0, 1), (0, -1), (-0.9, 0), (0.9, 0)],
                  [M, L, L, L, C, M, L, M, L])
pcv_marker = Path.make_compound_path(
    Path.unit_circle(), Path([(0, 1), (0, -1), (-1, 0), (1, 0)], [M, L, M, L]))

shapes = {
    "s": ("PTVs", ptv_marker, 38),
    "d": ("PAVs", pav_marker, 40),
    "p": ("PCVs", pcv_marker, 24),
    "v": ("Intronic", "v", 36),
    "o": ("UTR", "o", 22),
    "x": ("Others", "x", 24),
}

offsets = np.concatenate([[0], np.cumsum(chrom_len)[:-1]])
centers = offsets + np.array(chrom_len) / 2
total = float(np.sum(chrom_len))

xs, ys, cs, cols = [], [], [], []
for i in range(len(chrom_names)):
    col = red if i % 2 == 0 else blue
    for p, b, c in list(zip(core_pos[i], core_beta[i], core_cons[i])) + \
            list(zip(band_pos[i], band_beta[i], band_cons[i])):
        xs.append(offsets[i] + p)
        ys.append(b / 1000.0)
        cs.append(c)
        cols.append(col)
for ch, p, b, c in zip(out_chr + lab_chr, out_pos + lab_pos,
                       out_beta + lab_beta, out_cons + lab_cons):
    i = chrom_names.index(ch)
    xs.append(offsets[i] + p)
    ys.append(b)
    cs.append(c)
    cols.append(red if i % 2 == 0 else blue)
xs = np.array(xs)
ys = np.array(ys)
cs = np.array(cs)
cols = np.array(cols)

fig = plt.figure(figsize=(12, 7), dpi=300)
ax = fig.add_axes([248 / 3600, 1 - 1629 / 2100, (3566 - 248) / 3600, (1629 - 244) / 2100])

ax.axhline(0, color="black", lw=0.8, zorder=1)
for code, (name, marker, size) in shapes.items():
    m = cs == code
    if not m.any():
        continue
    if code == "x":
        ax.scatter(xs[m], ys[m], marker="x", c=list(cols[m]), s=size,
                   linewidths=0.95, alpha=0.72, zorder=2)
    else:
        ax.scatter(xs[m], ys[m], marker=marker, facecolors="none",
                   edgecolors=list(cols[m]), s=size, linewidths=0.95,
                   alpha=0.72, zorder=2)

for ch, p, b, t, dx, dy, rel in zip(lab_chr, lab_pos, lab_beta, lab_text,
                                    lab_dx, lab_dy, lab_rel):
    if not t:
        continue
    i = chrom_names.index(ch)
    ax.annotate(t, xy=(offsets[i] + p, b), xytext=(dx, dy), textcoords="offset points",
                ha="center", va="center", fontsize=11, zorder=3,
                arrowprops=dict(arrowstyle="-", color="black", lw=0.5, relpos=rel,
                                shrinkA=1, shrinkB=1.5))

ax.set_xlim(-0.05 * total, 1.05 * total)
ax.set_ylim(-0.2606, 0.3026)

shown_idx = [chrom_names.index(n) for n in tick_shown]
ax.set_xticks(centers[shown_idx])
ax.set_xticklabels(tick_shown)
ax.set_xticks(np.concatenate([offsets, [total]]), minor=True)
ax.set_yticks([-0.2, -0.1, 0.0, 0.1, 0.2, 0.3])
ax.set_yticklabels(["-0.2", "-0.1", "0.0", "0.1", "0.2", "0.3"])
ax.set_yticks([-0.25, -0.15, -0.05, 0.05, 0.15, 0.25], minor=True)

ax.tick_params(axis="x", which="both", length=0, labelsize=12.8, labelcolor="#4D4D4D", pad=7)
ax.tick_params(axis="y", which="major", length=4.5, width=0.8, color="#333333",
               labelsize=12.8, labelcolor="#4D4D4D", pad=3.5)
ax.tick_params(axis="y", which="minor", length=0)
ax.grid(axis="y", which="major", color="#EBEBEB", lw=0.8)
ax.grid(axis="y", which="minor", color="#EBEBEB", lw=0.4)
ax.grid(axis="x", which="minor", color="#EBEBEB", lw=0.4)
ax.grid(axis="x", which="major", visible=False)
ax.set_axisbelow(True)
for s in ax.spines.values():
    s.set_visible(False)

fig.text(0.5297, 1 - 1756 / 2100, "Genomic position (GRCh37/hg19)", ha="center", va="center", fontsize=16)
fig.text(64 / 3600, 1 - 936 / 2100, "PGS effect size", ha="center", va="center", rotation=90, fontsize=16)
fig.text(246 / 3600, 1 - 64 / 2100, "iPGS coefficients", ha="left", va="center", fontsize=19)
fig.text(246 / 3600, 1 - 168 / 2100,
         "BIN FC10023882: BLQ: Free Chol. to Tot. Lipids in CMs and XXL VLDL %",
         ha="left", va="center", fontsize=16)

# legend
handles = []
for code in ["s", "d", "p", "v", "o", "x"]:
    name, marker, size = shapes[code]
    if code == "x":
        h = Line2D([], [], marker="x", linestyle="none", color="black",
                   markersize=4, markeredgewidth=0.75)
    else:
        h = Line2D([], [], marker=marker, linestyle="none", markerfacecolor="none",
                   markeredgecolor="black", markersize=np.sqrt(size) * 0.75,
                   markeredgewidth=0.75)
    handles.append((h, name))
fig.legend([h for h, _ in handles], [n for _, n in handles], ncol=3,
           loc="center left", bbox_to_anchor=(1711 / 3600, 1 - 1963 / 2100),
           frameon=False, fontsize=12.8, handlelength=1.0, handletextpad=0.8,
           columnspacing=0.77, labelspacing=0.3, borderpad=0, borderaxespad=0)
fig.text(1442 / 3600, 1 - 1965 / 2100, "Consequence", ha="center", va="center", fontsize=16)

fig.savefig("out.png", dpi=300)
